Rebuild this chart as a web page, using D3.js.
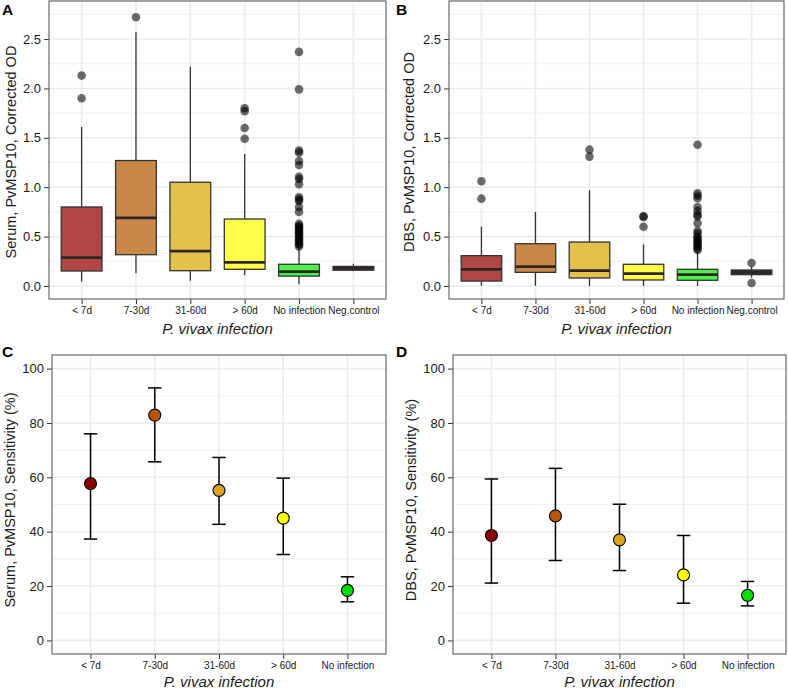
<!DOCTYPE html>
<html><head><meta charset="utf-8">
<script src="https://cdn.jsdelivr.net/npm/d3@7"></script>
<style>body{margin:0;background:#fff}svg{display:block;font-family:"Liberation Sans",Arial,sans-serif}</style>
</head><body><svg id="c" width="788" height="689"></svg>
<script>
// ---------- data ----------
const boxCategories = ["< 7d","7-30d","31-60d","> 60d","No infection","Neg.control"];
const sensCategories = ["< 7d","7-30d","31-60d","> 60d","No infection"];
const boxColors = ["#b04646","#c98848","#e3c14b","#ffff4a","#4cf24c","#3a3a3a"];
const pointColors = ["#8b0000","#b8560f","#daa520","#ffff00","#00e000"];
const boxTicks = [0, 0.5, 1.0, 1.5, 2.0, 2.5];
const sensTicks = [0, 20, 40, 60, 80, 100];

// Panel A: serum corrected OD
const serumLow  = [0.044, 0.128, 0.054, 0.111, 0.017, 0.15];
const serumQ1   = [0.152, 0.317, 0.155, 0.169, 0.100, 0.160];
const serumMed  = [0.287, 0.690, 0.354, 0.240, 0.145, 0.180];
const serumQ3   = [0.800, 1.270, 1.050, 0.678, 0.220, 0.198];
const serumHigh = [1.610, 2.570, 2.220, 1.336, 0.390, 0.225];
const serumOut  = [
  [2.13, 1.90],
  [2.72],
  [],
  [1.80, 1.77, 1.60, 1.49],
  [2.37, 1.99, 1.37, 1.35, 1.265, 1.225, 1.106, 1.083, 1.03, 0.898, 0.877, 0.86, 0.80, 0.75, 0.63, 0.61, 0.60, 0.58, 0.567, 0.55, 0.533, 0.52, 0.50, 0.48, 0.465, 0.45, 0.43, 0.42, 0.40],
  []
];

// Panel B: DBS corrected OD
const dbsLow  = [0.003, 0.003, 0.0, 0.0, 0.0, 0.085];
const dbsQ1   = [0.050, 0.138, 0.081, 0.061, 0.058, 0.115];
const dbsMed  = [0.169, 0.196, 0.155, 0.125, 0.115, 0.139];
const dbsQ3   = [0.307, 0.428, 0.445, 0.220, 0.169, 0.162];
const dbsHigh = [0.600, 0.750, 0.970, 0.420, 0.347, 0.195];
const dbsOut  = [
  [1.06, 0.884],
  [],
  [1.38, 1.31],
  [0.705, 0.70, 0.60],
  [1.43, 0.938, 0.914, 0.888, 0.80, 0.76, 0.72, 0.705, 0.635, 0.557, 0.533, 0.50, 0.485, 0.466, 0.45, 0.432, 0.415, 0.40, 0.38, 0.364],
  [0.233, 0.03]
];

// Panel C: serum sensitivity (%)
const serumSens  = [57.7, 82.9, 55.2, 45.0, 18.4];
const serumSensLo = [37.3, 65.7, 42.7, 31.6, 14.2];
const serumSensHi = [76.0, 92.9, 67.3, 59.7, 23.4];

// Panel D: DBS sensitivity (%)
const dbsSens  = [38.6, 45.8, 37.0, 24.1, 16.6];
const dbsSensLo = [21.1, 29.4, 25.7, 13.7, 12.7];
const dbsSensHi = [59.4, 63.3, 50.1, 38.6, 21.7];

// ---------- drawing ----------
const svg = d3.select("#c");
const GRID = "#ebebeb", BORDER = "#5a5a5a", TXT = "#1a1a1a";

function frame(g, x, y, ticks, minorTicks, cats, L, R, T, B) {
  g.selectAll(".minor").data(minorTicks).join("line")
    .attr("x1", L).attr("x2", R).attr("y1", d => y(d)).attr("y2", d => y(d))
    .attr("stroke", "#f2f2f2").attr("stroke-width", 1.2);
  g.selectAll(".major").data(ticks).join("line")
    .attr("x1", L).attr("x2", R).attr("y1", d => y(d)).attr("y2", d => y(d))
    .attr("stroke", GRID).attr("stroke-width", 1.6);
  g.selectAll(".vgrid").data(cats).join("line")
    .attr("x1", d => x(d)).attr("x2", d => x(d)).attr("y1", T).attr("y2", B)
    .attr("stroke", GRID).attr("stroke-width", 1.6);
}

function axes(g, x, y, L, R, T, B, yFmt, xFont) {
  const ya = g.append("g").attr("transform", `translate(${L},0)`)
    .call(d3.axisLeft(y).tickValues(y.ticksUsed).tickFormat(yFmt).tickSize(5).tickPadding(3));
  ya.select(".domain").remove();
  ya.selectAll("line").attr("stroke", "#333");
  ya.selectAll("text").attr("font-size", 13).attr("fill", TXT);
  const xa = g.append("g").attr("transform", `translate(0,${B})`)
    .call(d3.axisBottom(x).tickSize(5).tickPadding(3));
  xa.select(".domain").remove();
  xa.selectAll("line").attr("stroke", "#333");
  xa.selectAll("text").attr("font-size", xFont).attr("fill", TXT);
  g.append("rect").attr("x", L).attr("y", T).attr("width", R - L).attr("height", B - T)
    .attr("fill", "none").attr("stroke", BORDER).attr("stroke-width", 1.1);
}

function titles(g, L, R, T, B, yTitle, xTitle, xTitleY, yTitleX, yTitleY, label, labelX, labelY) {
  g.append("text").attr("transform", `translate(${yTitleX},${yTitleY}) rotate(-90)`)
    .attr("text-anchor", "middle").attr("font-size", 14.5).attr("fill", TXT).text(yTitle);
  g.append("text").attr("x", (L + R) / 2).attr("y", xTitleY).attr("text-anchor", "middle")
    .attr("font-size", 15).attr("font-style", "italic").attr("fill", TXT).text(xTitle);
  g.append("text").attr("x", labelX).attr("y", labelY).attr("font-size", 15.5)
    .attr("font-weight", "bold").attr("fill", "#000").text(label);
}

function boxPanel(opt) {
  const {L, R, T, B} = opt;
  const g = svg.append("g");
  const x = d3.scalePoint().domain(boxCategories).range([L, R]).padding(0.6);
  const y = d3.scaleLinear().domain([-0.1316, 2.885]).range([B, T]);
  y.ticksUsed = boxTicks;
  g.append("rect").attr("x", L).attr("y", T).attr("width", R - L).attr("height", B - T).attr("fill", "#fff");
  frame(g, x, y, boxTicks, [0.25, 0.75, 1.25, 1.75, 2.25, 2.75], boxCategories, L, R, T, B);
  const bw = x.step() * 0.75;
  boxCategories.forEach((c, i) => {
    const cx = x(c);
    g.append("line").attr("x1", cx).attr("x2", cx).attr("y1", y(opt.hi[i])).attr("y2", y(opt.q3[i]))
      .attr("stroke", "#333").attr("stroke-width", 1.3);
    g.append("line").attr("x1", cx).attr("x2", cx).attr("y1", y(opt.q1[i])).attr("y2", y(opt.lo[i]))
      .attr("stroke", "#333").attr("stroke-width", 1.3);
    g.append("rect").attr("x", cx - bw / 2).attr("width", bw)
      .attr("y", y(opt.q3[i])).attr("height", Math.max(1, y(opt.q1[i]) - y(opt.q3[i])))
      .attr("fill", boxColors[i]).attr("stroke", "#333").attr("stroke-width", 1.3);
    g.append("line").attr("x1", cx - bw / 2).attr("x2", cx + bw / 2)
      .attr("y1", y(opt.med[i])).attr("y2", y(opt.med[i]))
      .attr("stroke", "#2e2626").attr("stroke-width", 2.8);
    g.selectAll(null).data(opt.out[i]).join("circle")
      .attr("cx", cx).attr("cy", d => y(d)).attr("r", 4.3)
      .attr("fill", "#000").attr("fill-opacity", 0.58);
  });
  axes(g, x, y, L, R, T, B, d3.format(".1f"), 10);
  titles(g, L, R, T, B, opt.yTitle, "P. vivax infection", opt.xTitleY, opt.yTitleX, 152, opt.label, opt.labelX, 15);
}

function sensPanel(opt) {
  const {L, R, T, B} = opt;
  const g = svg.append("g");
  const x = d3.scalePoint().domain(sensCategories).range([L, R]).padding(0.6);
  const y = d3.scaleLinear().domain([-5, 105]).range([B, T]);
  y.ticksUsed = sensTicks;
  g.append("rect").attr("x", L).attr("y", T).attr("width", R - L).attr("height", B - T).attr("fill", "#fff");
  frame(g, x, y, sensTicks, [10, 30, 50, 70, 90], sensCategories, L, R, T, B);
  const cap = 6.7;
  sensCategories.forEach((c, i) => {
    const cx = x(c);
    g.append("line").attr("x1", cx).attr("x2", cx).attr("y1", y(opt.hi[i])).attr("y2", y(opt.lo[i]))
      .attr("stroke", "#000").attr("stroke-width", 1.5);
    [opt.hi[i], opt.lo[i]].forEach(v => g.append("line")
      .attr("x1", cx - cap).attr("x2", cx + cap).attr("y1", y(v)).attr("y2", y(v))
      .attr("stroke", "#000").attr("stroke-width", 1.5));
    g.append("circle").attr("cx", cx).attr("cy", y(opt.val[i])).attr("r", 6)
      .attr("fill", pointColors[i]).attr("stroke", "#000").attr("stroke-width", 1.1);
  });
  axes(g, x, y, L, R, T, B, d3.format("d"), 10);
  titles(g, L, R, T, B, opt.yTitle, "P. vivax infection", opt.xTitleY, opt.yTitleX, 500, opt.label, opt.labelX, 357);
}

boxPanel({L: 49, R: 386, T: 1, B: 299, lo: serumLow, q1: serumQ1, med: serumMed, q3: serumQ3, hi: serumHigh, out: serumOut,
  yTitle: "Serum, PvMSP10, Corrected OD", xTitleY: 334, yTitleX: 16, label: "A", labelX: 2});
boxPanel({L: 449, R: 784, T: 1, B: 299, lo: dbsLow, q1: dbsQ1, med: dbsMed, q3: dbsQ3, hi: dbsHigh, out: dbsOut,
  yTitle: "DBS, PvMSP10, Corrected OD", xTitleY: 334, yTitleX: 414, label: "B", labelX: 396});
sensPanel({L: 52, R: 386, T: 355, B: 654, val: serumSens, lo: serumSensLo, hi: serumSensHi,
  yTitle: "Serum, PvMSP10, Sensitivity (%)", xTitleY: 687, yTitleX: 15, label: "C", labelX: 2});
sensPanel({L: 453, R: 786, T: 355, B: 654, val: dbsSens, lo: dbsSensLo, hi: dbsSensHi,
  yTitle: "DBS, PvMSP10, Sensitivity (%)", xTitleY: 687, yTitleX: 416, label: "D", labelX: 396});
</script></body></html>
